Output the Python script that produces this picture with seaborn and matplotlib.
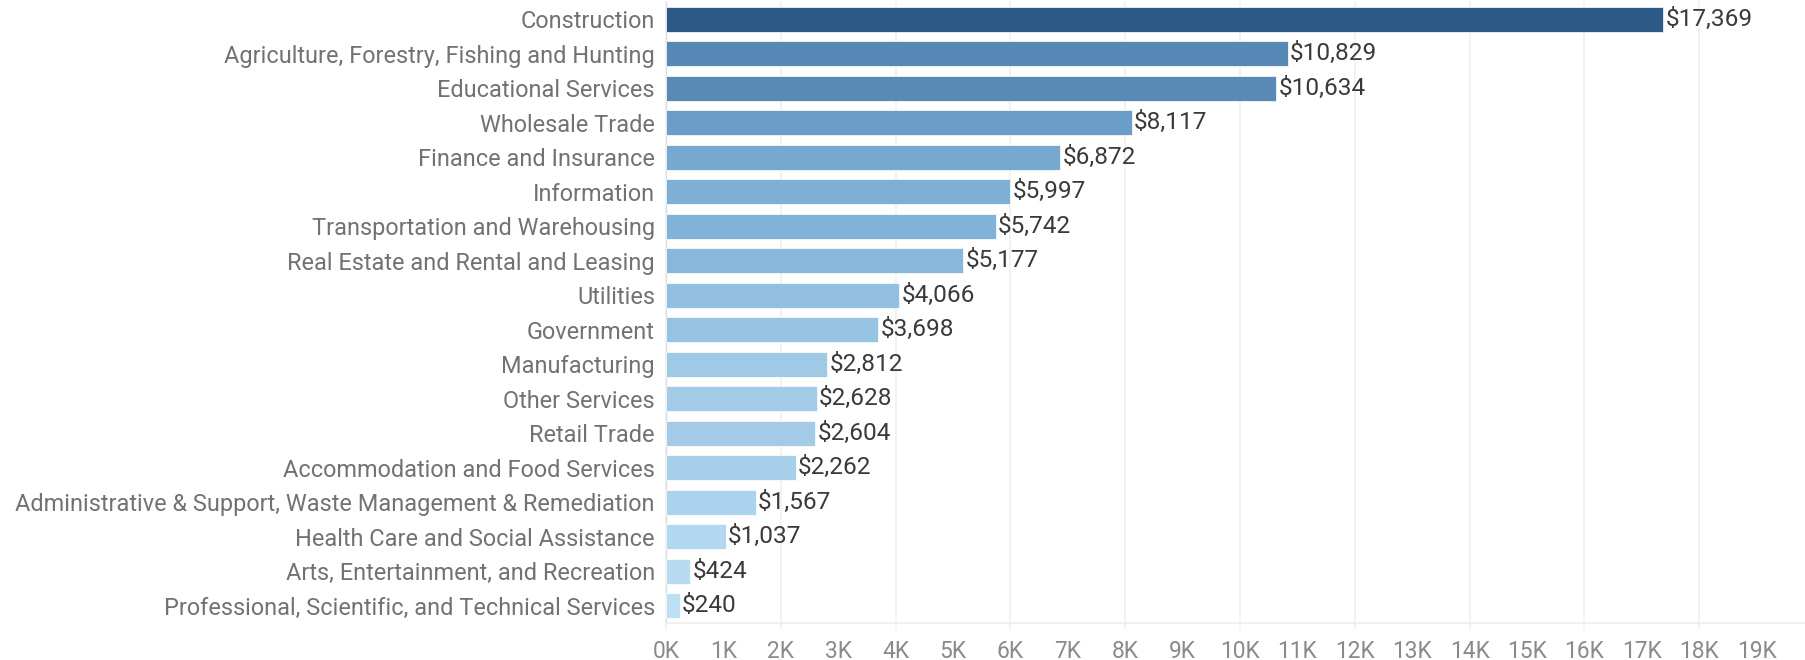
import matplotlib
matplotlib.use("Agg")
import matplotlib.pyplot as plt
import seaborn as sns
import pandas as pd
from matplotlib.ticker import FixedLocator
from matplotlib.textpath import TextPath
from matplotlib.font_manager import FontProperties

categories = [
    "Construction",
    "Agriculture, Forestry, Fishing and Hunting",
    "Educational Services",
    "Wholesale Trade",
    "Finance and Insurance",
    "Information",
    "Transportation and Warehousing",
    "Real Estate and Rental and Leasing",
    "Utilities",
    "Government",
    "Manufacturing",
    "Other Services",
    "Retail Trade",
    "Accommodation and Food Services",
    "Administrative & Support, Waste Management & Remediation",
    "Health Care and Social Assistance",
    "Arts, Entertainment, and Recreation",
    "Professional, Scientific, and Technical Services",
]
values = [17369, 10829, 10634, 8117, 6872, 5997, 5742, 5177, 4066, 3698,
          2812, 2628, 2604, 2262, 1567, 1037, 424, 240]
value_labels = ["$17,369", "$10,829", "$10,634", "$8,117", "$6,872", "$5,997",
                "$5,742", "$5,177", "$4,066", "$3,698", "$2,812", "$2,628",
                "$2,604", "$2,262", "$1,567", "$1,037", "$424", "$240"]
tick_values = list(range(0, 20000, 1000))
tick_labels = [f"{v // 1000}K" for v in tick_values]

bar_colors = ["#2c5985", "#5689b5", "#598ab6", "#6a9ec8", "#77a9d0", "#7eb0d6",
              "#81b2d7", "#88b7db", "#93c0e1", "#97c3e2", "#a0c9e6", "#a3cbe7",
              "#a3cbe8", "#a8cfea", "#acd3ed", "#b2d7f0", "#b8dbf2", "#bddff4"]

FAMILY = "Roboto"
plt.rcParams["font.family"] = [FAMILY, "DejaVu Sans"]
DPI = 100


def fit_size(text, target_px):
    """Font size (pt) giving the text the wanted rendered width."""
    fp = FontProperties(family=FAMILY, size=100)
    w = TextPath((0, 0), text, prop=fp).get_extents().width
    w_px = w * DPI / 72.0
    return 100 * target_px / w_px


cat_size = fit_size("Administrative & Support, Waste Management & Remediation", 638)
val_size = fit_size("$17,369", 84)
tick_size = fit_size("19K", 38)

df = pd.DataFrame({"category": categories, "value": values})

fig = plt.figure(figsize=(18.06, 6.6), dpi=DPI)
ax = fig.add_axes([666 / 1806, 37 / 660, 1 - 666 / 1806, 621 / 660])

sns.barplot(data=df, x="value", y="category", hue="category",
            palette=bar_colors, saturation=1, legend=False, orient="h",
            width=0.725, ax=ax, zorder=3)
for p in ax.patches:
    p.set_edgecolor("#ffffff")
    p.set_linewidth(0.5)

ax.set_xlim(0, 1140 / 57.4 * 1000)
ax.set_ylim(len(categories) - 0.5, -0.5)

for i, (v, lab) in enumerate(zip(values, value_labels)):
    ax.text(v + 40, i, lab, va="center", ha="left", fontsize=val_size,
            color="#3a3a3a", zorder=4)

ax.set_xlabel("")
ax.set_ylabel("")
ax.xaxis.set_major_locator(FixedLocator(tick_values))
ax.set_xticklabels(tick_labels)
ax.tick_params(axis="x", length=0, labelsize=tick_size,
               labelcolor="#8a8a8a", pad=12)
ax.tick_params(axis="y", length=0, labelsize=cat_size, labelcolor="#727272", pad=8)

ax.grid(False)
for g in range(0, 20000, 2000):
    ax.axvline(g, ymin=-6 / 621, ymax=1, color="#f0f0f0", lw=1.2, zorder=0,
               clip_on=False)
ax.axvline(0, color="#dcdcdc", lw=1, zorder=1)

for s in ["top", "right", "left"]:
    ax.spines[s].set_visible(False)
ax.spines["bottom"].set_color("#eeeeee")
ax.spines["bottom"].set_linewidth(1.2)
ax.set_facecolor("white")

fig.savefig("out.png", dpi=DPI, facecolor="white")
